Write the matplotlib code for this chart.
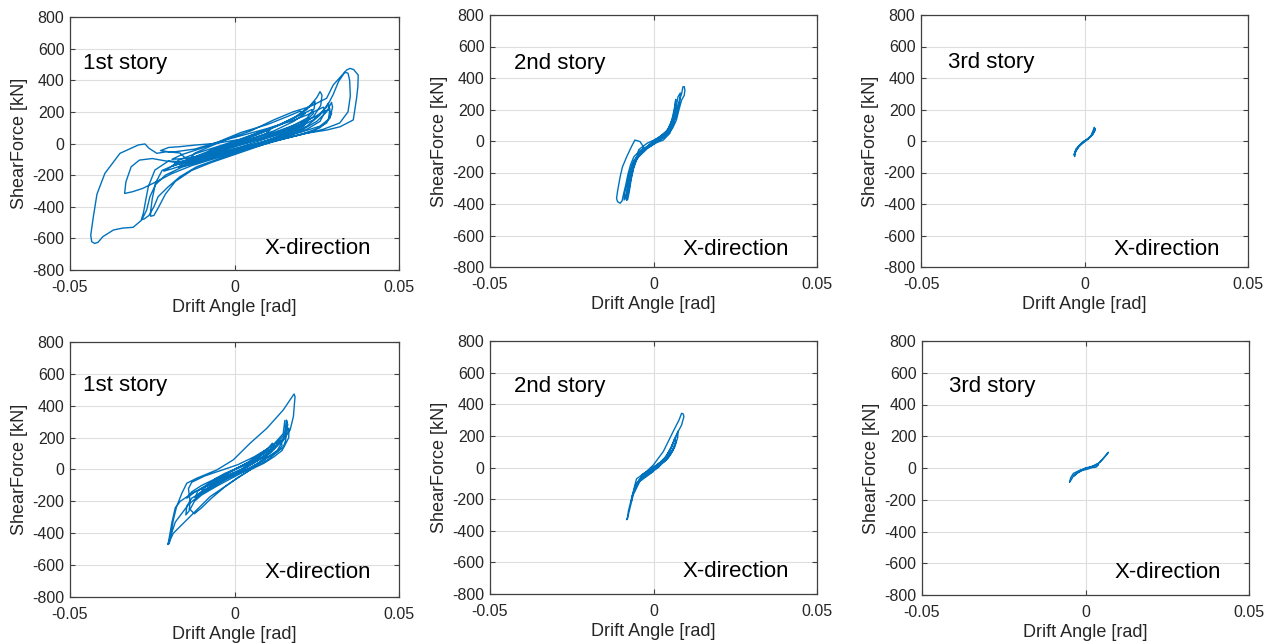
import numpy as np
import matplotlib
matplotlib.use("Agg")
import matplotlib.pyplot as plt

plt.rcParams['font.family'] = ['Liberation Sans', 'DejaVu Sans']
plt.rcParams['axes.unicode_minus'] = False

# ---- hysteresis records: (drift angle [rad], shear force [kN]) ----
story1_top = np.array([
    (0.000, 0), (0.004, 35), (0.008, 65), (0.011, 90), (0.0095, 60), (0.005, 25), (0.000, -15),
    (-0.005, -45), (-0.009, -75), (-0.0075, -45), (-0.003, -10), (0.002, 25),
    (0.008, 75), (0.014, 120), (0.019, 170), (0.0235, 215), (0.024, 190), (0.021, 130), (0.016, 80),
    (0.010, 40), (0.003, 0), (-0.004, -40), (-0.010, -85), (-0.015, -115), (-0.019, -145),
    (-0.017, -105), (-0.012, -65), (-0.006, -25), (0.000, 15),
    (0.006, 60), (0.012, 105), (0.018, 160), (0.022, 215), (0.025, 290), (0.026, 328), (0.0266, 305),
    (0.0262, 240), (0.024, 170), (0.020, 110), (0.014, 60), (0.008, 20), (0.002, -20), (-0.005, -60),
    (-0.012, -100), (-0.017, -115),
    (-0.020, -110), (-0.0242, -168), (-0.0252, -220), (-0.0262, -273), (-0.027, -360), (-0.0277, -441),
    (-0.0283, -480), (-0.0275, -478), (-0.026, -455), (-0.0245, -400), (-0.0232, -336), (-0.0201, -273),
    (-0.0166, -210), (-0.0115, -147), (-0.0044, -94), (0.002, -50), (0.009, 0), (0.016, 50), (0.022, 110),
    (0.026, 180), (0.0285, 254), (0.029, 215), (0.0285, 150), (0.026, 100), (0.020, 55), (0.013, 20),
    (0.006, -20), (-0.002, -65), (-0.010, -105), (-0.016, -125),
    (-0.021, -110), (-0.025, -95), (-0.0289, -105), (-0.0314, -147), (-0.033, -242), (-0.0334, -316),
    (-0.031, -305), (-0.0279, -284), (-0.0238, -242), (-0.019, -190), (-0.013, -140), (-0.006, -95),
    (0.000, -55), (0.006, -10), (0.012, 35), (0.018, 85), (0.024, 150), (0.028, 230), (0.030, 310),
    (0.0316, 391), (0.0335, 450), (0.0345, 445), (0.035, 400), (0.0352, 300), (0.0345, 200),
    (0.032, 130), (0.027, 90), (0.020, 55), (0.012, 15), (0.004, -30), (-0.004, -70), (-0.012, -110),
    (-0.018, -135), (-0.022, -170), (-0.024, -250), (-0.025, -350), (-0.0255, -430), (-0.0255, -460),
    (-0.0245, -455), (-0.023, -400), (-0.021, -320), (-0.018, -240), (-0.013, -170), (-0.007, -120),
    (0.000, -70), (0.007, -20), (0.014, 30), (0.020, 80), (0.025, 140), (0.028, 200), (0.0295, 260),
    (0.0298, 230), (0.029, 160), (0.026, 110), (0.020, 70), (0.012, 30), (0.004, -15), (-0.004, -60),
    (-0.010, -90), (-0.014, -105),
    (-0.012, -60), (-0.007, -15), (-0.002, 30), (0.005, 80), (0.012, 150), (0.0179, 201), (0.0229, 233),
    (0.028, 286), (0.030, 370), (0.0341, 465), (0.0351, 475), (0.0362, 468), (0.0376, 433),
    (0.0375, 360), (0.0371, 286), (0.0361, 149), (0.0321, 106), (0.028, 85), (0.0219, 65),
    (0.0148, 33), (0.007, 0), (-0.0004, -52), (-0.008, -95), (-0.014, -110),
    (-0.0166, -60), (-0.0206, -52), (-0.0236, -62), (-0.026, -30), (-0.0272, -3), (-0.0292, -9),
    (-0.0348, -62), (-0.0394, -189), (-0.0418, -320), (-0.0429, -463), (-0.0437, -580),
    (-0.0434, -621), (-0.0425, -632), (-0.0415, -625), (-0.040, -589), (-0.0368, -547),
    (-0.034, -535), (-0.0308, -530), (-0.0282, -484), (-0.0267, -421), (-0.0257, -336),
    (-0.024, -260), (-0.021, -200), (-0.016, -150), (-0.010, -110), (-0.003, -65), (0.004, -20),
    (0.010, 20), (0.016, 60), (0.021, 110), (0.0225, 150), (0.020, 120), (0.014, 75), (0.008, 35),
    (0.002, 0), (-0.004, -35), (-0.008, -55), (-0.005, -25), (0.000, 5), (0.004, 30),
    (0.000, 20), (-0.006, 0), (-0.012, -10), (-0.0166, -20), (-0.020, -25), (-0.0225, -45),
    (-0.019, -55), (-0.012, -35), (-0.005, 10), (0.002, 70), (0.010, 120), (0.016, 170),
    (0.020, 205), (0.0215, 190), (0.018, 140), (0.012, 80), (0.005, 30), (0.000, 0),
    (0.006, 50), (0.013, 110), (0.019, 175), (0.023, 240), (0.0245, 265), (0.0242, 220),
    (0.022, 160), (0.017, 105), (0.011, 55), (0.004, 5), (-0.003, -40), (-0.009, -75),
    (-0.015, -95), (-0.019, -100), (-0.016, -70), (-0.010, -30), (-0.004, 15), (0.003, 55),
    (0.010, 95), (0.017, 140), (0.022, 180), (0.027, 230), (0.0275, 200), (0.026, 140),
    (0.022, 90), (0.016, 45), (0.009, 5), (0.002, -35), (-0.006, -80), (-0.013, -120),
    (-0.019, -160), (-0.0215, -175), (-0.018, -130), (-0.012, -85), (-0.006, -45), (0.000, -5),
    (0.006, 35), (0.012, 70), (0.018, 115), (0.024, 165), (0.0285, 215), (0.0295, 190),
    (0.028, 130), (0.024, 80), (0.017, 40), (0.010, 0), (0.003, -40), (-0.005, -85),
    (-0.012, -125), (-0.017, -150), (-0.014, -100), (-0.008, -50), (-0.002, -10), (0.000, 0),
])

story2_top = np.array([
    (0.000, 0), (0.002, 25), (0.004, 50), (0.0035, 25), (0.001, -5), (-0.002, -35), (-0.005, -85),
    (-0.0045, -55), (-0.002, -15), (0.001, 15), (0.003, 40), (0.0048, 80), (0.0058, 150),
    (0.0066, 230), (0.0068, 265), (0.0066, 215), (0.006, 150), (0.0045, 75), (0.002, 25),
    (-0.001, -20), (-0.004, -70), (-0.006, -125), (-0.0072, -205), (-0.0077, -289), (-0.0082, -374),
    (-0.0079, -372), (-0.0074, -320), (-0.0068, -240), (-0.006, -160), (-0.0048, -95),
    (-0.0025, -45), (0.000, 0), (0.002, 30), (0.004, 60), (0.0055, 120), (0.0068, 200),
    (0.0075, 281), (0.0082, 305), (0.008, 250), (0.007, 160), (0.0055, 90), (0.0035, 35),
    (0.001, -5), (-0.002, -50), (-0.0045, -100), (-0.0062, -150), (-0.0075, -230), (-0.008, -300),
    (-0.0085, -360), (-0.0082, -375), (-0.0076, -320), (-0.0070, -250), (-0.0062, -180),
    (-0.005, -110), (-0.003, -40), (-0.0041, -4), (-0.0057, 6), (-0.0066, -30), (-0.0082, -100),
    (-0.0095, -165), (-0.0102, -227), (-0.0110, -320), (-0.0113, -364), (-0.011, -385),
    (-0.0102, -395), (-0.0096, -380), (-0.0092, -340), (-0.0085, -280), (-0.0078, -210),
    (-0.0070, -150), (-0.006, -100), (-0.004, -60), (-0.0011, -36), (0.001, -10), (0.003, 6),
    (0.005, 49), (0.006, 100), (0.007, 180), (0.0078, 250), (0.0086, 300), (0.009, 344),
    (0.0094, 345), (0.0096, 323), (0.0094, 290), (0.0086, 260), (0.0078, 200), (0.007, 133),
    (0.0058, 80), (0.004, 40), (0.002, 10), (-0.0005, -20), (-0.003, -50), (-0.005, -95),
    (-0.0065, -150), (-0.0078, -240), (-0.0088, -330), (-0.0090, -374), (-0.0085, -360),
    (-0.0078, -300), (-0.007, -220), (-0.006, -150), (-0.0045, -90), (-0.002, -40), (0.000, -5),
    (0.002, 20), (0.004, 55), (0.0055, 110), (0.0065, 170), (0.0072, 220), (0.007, 180),
    (0.006, 120), (0.0045, 65), (0.002, 15), (-0.001, -30), (-0.0035, -70), (-0.0055, -120),
    (-0.0068, -180), (-0.0072, -230), (-0.0066, -190), (-0.0056, -130), (-0.004, -80),
    (-0.0015, -30), (0.001, 10), (0.003, 40),
])

story3_top = np.array([
    (0.000, 0), (0.001, 15), (0.002, 35), (0.0028, 75), (0.003, 87), (0.0032, 70), (0.0025, 40),
    (0.0012, 15), (0.000, -5), (-0.001, -20), (-0.002, -40), (-0.0028, -70), (-0.003, -99),
    (-0.0032, -85), (-0.0026, -50), (-0.0015, -25), (-0.0005, -5), (0.0008, 10), (0.002, 30),
    (0.0027, 55), (0.0032, 80), (0.0031, 62), (0.0022, 35), (0.001, 12), (-0.0005, -12),
    (-0.0017, -35), (-0.0025, -60), (-0.0031, -90), (-0.0029, -70), (-0.002, -42), (-0.001, -20),
    (0.000, 0),
])

story1_bot = np.array([
    (0.000, 0), (0.003, 30), (0.006, 60), (0.008, 90), (0.007, 55), (0.004, 20), (0.000, -20),
    (-0.004, -55), (-0.007, -90), (-0.006, -60), (-0.003, -25), (0.001, 10), (0.005, 50),
    (0.009, 100), (0.012, 140), (0.014, 180), (0.0145, 150), (0.013, 110), (0.010, 60), (0.006, 15),
    (0.002, -20), (-0.003, -60), (-0.007, -100), (-0.010, -140), (-0.012, -175), (-0.011, -130),
    (-0.008, -90), (-0.004, -45), (0.000, 0), (0.004, 45), (0.008, 100), (0.012, 160),
    (0.0148, 225), (0.0153, 308), (0.0155, 260), (0.015, 190), (0.013, 120), (0.009, 60),
    (0.005, 15), (0.001, -25), (-0.004, -75), (-0.009, -130), (-0.013, -180), (-0.0145, -230),
    (-0.0148, -285), (-0.0138, -260), (-0.0135, -200), (-0.0140, -120), (-0.0130, -80),
    (-0.009, -40), (-0.004, -5),
    (0.001, 30), (0.006, 80), (0.010, 130), (0.013, 170), (0.015, 215), (0.0165, 260),
    (0.0165, 200), (0.015, 140), (0.012, 100), (0.008, 50), (0.004, 0), (0.000, -45),
    (-0.005, -100), (-0.010, -160), (-0.0122, -200), (-0.0135, -250), (-0.0122, -278),
    (-0.010, -240), (-0.007, -180), (-0.003, -110), (0.001, -50), (0.005, 0), (0.009, 40),
    (0.012, 80), (0.0145, 120), (0.0155, 180), (0.016, 250), (0.0158, 310), (0.0162, 280),
    (0.015, 200), (0.012, 130), (0.007, 60), (0.002, 0), (-0.003, -50), (-0.008, -100),
    (-0.013, -150), (-0.0165, -200), (-0.0180, -240), (-0.0190, -330), (-0.0202, -470),
    (-0.0198, -463), (-0.0186, -317), (-0.0176, -233), (-0.016, -149), (-0.0145, -86),
    (-0.0115, -55), (-0.0054, -3), (-0.0004, 60), (0.0047, 164), (0.0098, 258), (0.0148, 373),
    (0.0181, 474), (0.0184, 457), (0.0179, 332), (0.0169, 248), (0.0148, 185), (0.0108, 102),
    (0.0047, -3), (-0.0014, -86), (-0.0074, -170), (-0.0125, -275), (-0.0156, -338),
    (-0.0186, -400), (-0.0202, -470), (-0.0196, -430), (-0.018, -330), (-0.014, -220),
    (-0.010, -150), (-0.005, -90), (0.000, -30), (0.004, 20), (0.008, 70), (0.011, 110),
    (0.009, 80), (0.005, 40), (0.000, 0),
    (0.004, 40), (0.008, 90), (0.011, 130), (0.012, 150), (0.0115, 120), (0.009, 80), (0.005, 30),
    (0.001, -20), (-0.004, -70), (-0.008, -115), (-0.0105, -150), (-0.009, -110), (-0.006, -70),
    (-0.002, -25), (0.003, 30), (0.007, 75), (0.0098, 123), (0.0115, 165), (0.012, 140),
    (0.010, 95), (0.006, 45), (0.002, 0), (-0.003, -45), (-0.007, -90), (-0.012, -140),
    (-0.0145, -180), (-0.013, -140), (-0.010, -100), (-0.005, -50), (0.000, 0),
])

story2_bot = np.array([
    (0.000, 0), (0.002, 30), (0.004, 70), (0.0035, 40), (0.001, 0), (-0.002, -35), (-0.004, -75),
    (-0.0035, -45), (-0.001, -10), (0.002, 30), (0.004, 75), (0.0055, 130), (0.0065, 185),
    (0.0068, 160), (0.006, 110), (0.0045, 60), (0.002, 15), (-0.001, -30), (-0.0035, -70),
    (-0.0052, -110), (-0.006, -150), (-0.0055, -110), (-0.004, -70), (-0.0015, -25), (0.001, 15),
    (0.0035, 60), (0.0055, 130), (0.007, 200), (0.0075, 230), (0.0074, 190), (0.0065, 130),
    (0.005, 75), (0.0025, 25), (0.000, -20), (-0.003, -60), (-0.005, -100), (-0.0062, -160),
    (-0.0068, -215), (-0.0065, -180), (-0.0055, -120), (-0.0045, -80), (-0.002, -30), (0.000, -25),
    (-0.0042, -88), (-0.0062, -173), (-0.0077, -299), (-0.0082, -330), (-0.0079, -320),
    (-0.0077, -278), (-0.0067, -194), (-0.0052, -72), (-0.0021, -25), (0.000, 17), (0.003, 101),
    (0.006, 227), (0.0078, 300), (0.0086, 343), (0.0091, 338), (0.0093, 322), (0.0086, 269),
    (0.007, 206), (0.004, 59), (0.0015, 0), (-0.001, -35), (-0.003, -55), (-0.001, -20),
    (0.002, 20), (0.004, 50), (0.006, 120), (0.007, 170), (0.0065, 140), (0.005, 80),
    (0.002, 20), (0.000, -5),
])

story3_bot = np.array([
    (0.000, 0), (0.002, 10), (0.0034, 19), (0.0045, 40), (0.0054, 61), (0.0062, 80), (0.0070, 99),
    (0.0065, 85), (0.0055, 60), (0.0045, 38), (0.003, 15), (0.0015, 5), (0.000, -5),
    (-0.0015, -12), (-0.0025, -22), (-0.0037, -34), (-0.0045, -60), (-0.0049, -90),
    (-0.0044, -75), (-0.0035, -45), (-0.0025, -28), (-0.001, -10), (0.0004, -2), (0.0018, 8),
    (0.0034, 25), (0.004, 20), (0.0032, 5), (0.002, 2), (0.0008, -6), (-0.001, -16),
    (-0.0025, -32), (-0.0035, -50), (-0.0028, -36), (-0.0015, -18), (0.000, 0),
])

records = [story1_top, story2_top, story3_top, story1_bot, story2_bot, story3_bot]
story_labels = ['1st story', '2nd story', '3rd story', '1st story', '2nd story', '3rd story']
direction_label = 'X-direction'

xtick_values = [-0.05, 0, 0.05]
xtick_labels = ['-0.05', '0', '0.05']
ytick_values = [-800, -600, -400, -200, 0, 200, 400, 600, 800]
ytick_labels = ['-800', '-600', '-400', '-200', '0', '200', '400', '600', '800']

# ---- layout (pixel boxes: left, top, right, bottom) ----
W, H = 1274, 644
boxes_px = [
    (70, 17, 399, 270), (490, 15, 817, 267), (921, 15, 1248, 267),
    (70, 342, 399, 597), (490, 341, 817, 594), (922, 341, 1249, 595),
]
story_text_pos = [(-0.046, 505), (-0.0427, 490), (-0.0417, 500),
                  (-0.046, 525), (-0.0427, 510), (-0.0417, 515)]
dir_text_pos = [(0.009, -662), (0.009, -688), (0.009, -688),
                (0.009, -648), (0.009, -658), (0.009, -658)]

line_color = '#0072BD'
axis_color = '#404040'
text_color = '#262626'

fig = plt.figure(figsize=(W / 100, H / 100), dpi=100)
fig.patch.set_facecolor('white')

for rec, label, box, spos, dpos in zip(records, story_labels, boxes_px,
                                       story_text_pos, dir_text_pos):
    x0, y0, x1, y1 = box
    ax = fig.add_axes([x0 / W, 1 - y1 / H, (x1 - x0) / W, (y1 - y0) / H])
    ax.plot(rec[:, 0], rec[:, 1], color=line_color, lw=1.0, solid_joinstyle='round')
    ax.set_xlim(-0.05, 0.05)
    ax.set_ylim(-800, 800)
    ax.set_xticks(xtick_values)
    ax.set_xticklabels(xtick_labels)
    ax.set_yticks(ytick_values)
    ax.set_yticklabels(ytick_labels)
    ax.grid(True, color='#dedede', lw=0.8)
    ax.set_axisbelow(True)
    for sp in ax.spines.values():
        sp.set_color(axis_color)
        sp.set_linewidth(0.9)
    ax.tick_params(direction='in', length=3.5, width=0.8, colors=axis_color,
                   labelcolor=text_color, labelsize=11.5, top=True, right=True)
    ax.tick_params(axis='x', pad=7)
    ax.tick_params(axis='y', pad=4)
    ax.set_xlabel('Drift Angle [rad]', fontsize=13, color=text_color, labelpad=3)
    ax.set_ylabel('ShearForce [kN]', fontsize=13, color=text_color, labelpad=3)
    ax.text(spos[0], spos[1], label, fontsize=16, color='black', va='center', ha='left')
    ax.text(dpos[0], dpos[1], direction_label, fontsize=16, color='black',
            va='center', ha='left')

fig.savefig('out.png', dpi=100, facecolor='white')
